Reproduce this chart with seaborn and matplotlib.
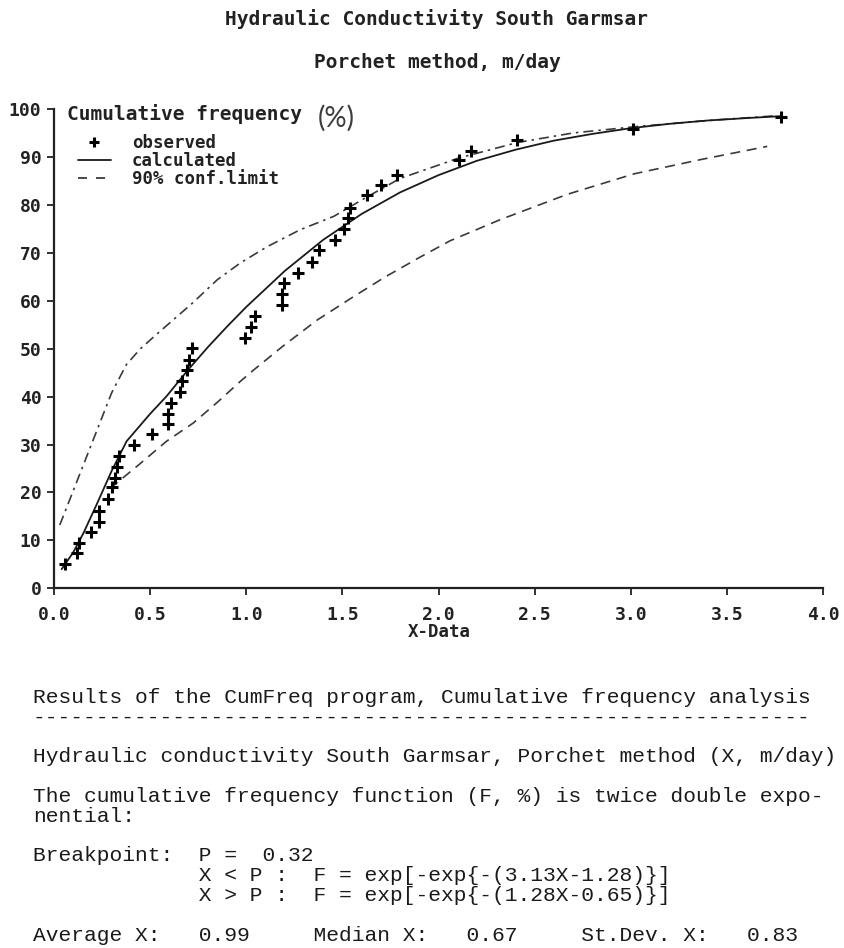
import matplotlib
matplotlib.use("Agg")
import matplotlib.pyplot as plt
import seaborn as sns
from matplotlib.lines import Line2D

# ---------------- data ----------------
obs_x = [0.057, 0.118, 0.13, 0.19, 0.234, 0.234, 0.28, 0.30, 0.318, 0.33, 0.34,
         0.418, 0.509, 0.592, 0.592, 0.609, 0.656, 0.665, 0.69, 0.70, 0.72,
         0.995, 1.024, 1.047, 1.186, 1.186, 1.198, 1.27, 1.342, 1.377, 1.464,
         1.51, 1.53, 1.54, 1.63, 1.70, 1.785, 2.106, 2.17, 2.41, 3.01, 3.78]
obs_y = [5.0, 7.4, 9.5, 11.7, 13.8, 16.1, 18.7, 21.1, 23.0, 25.4, 27.7,
         29.8, 32.1, 34.3, 36.4, 38.6, 40.9, 43.2, 45.6, 47.7, 50.1,
         52.2, 54.5, 56.9, 59.2, 61.5, 63.7, 65.8, 68.1, 70.6, 72.6,
         74.9, 77.2, 79.3, 82.1, 84.2, 86.3, 89.4, 91.3, 93.5, 95.8, 98.3]

calc_x = [0.04, 0.10, 0.153, 0.222, 0.30, 0.378, 0.50, 0.586, 0.70, 0.80, 0.90,
          1.0, 1.2, 1.4, 1.6, 1.8, 2.0, 2.2, 2.4, 2.6, 2.8, 3.0, 3.2, 3.4, 3.6, 3.78]
calc_y = [4.0, 7.5, 11.5, 17.5, 24.5, 30.7, 36.4, 40.1, 45.7, 50.3, 54.6,
          58.7, 66.2, 72.7, 78.1, 82.6, 86.2, 89.2, 91.5, 93.4, 94.8, 96.0, 96.9, 97.6, 98.1, 98.5]

upper_x = [0.03, 0.17, 0.30, 0.377, 0.45, 0.534, 0.64, 0.72, 0.85, 0.97, 1.11,
           1.28, 1.455, 1.63, 1.80, 2.10, 2.41, 2.70, 3.02, 3.40, 3.76]
upper_y = [13.2, 27.5, 40.8, 46.7, 50.0, 53.0, 56.7, 59.5, 64.4, 67.9, 71.3,
           74.8, 77.6, 81.7, 85.5, 89.7, 93.0, 95.0, 96.3, 97.6, 98.6]

lower_x = [0.29, 0.43, 0.586, 0.725, 0.855, 0.97, 1.04, 1.19, 1.37, 1.56, 1.72,
           1.90, 2.06, 2.32, 2.67, 3.02, 3.37, 3.71]
lower_y = [20.8, 25.4, 30.7, 34.5, 39.0, 43.2, 45.6, 50.5, 56.0, 60.9, 64.9,
           69.0, 72.5, 76.9, 82.2, 86.5, 89.5, 92.2]

xticks = [0.0, 0.5, 1.0, 1.5, 2.0, 2.5, 3.0, 3.5, 4.0]
xtick_labels = ["0.0", "0.5", "1.0", "1.5", "2.0", "2.5", "3.0", "3.5", "4.0"]
yticks = [0, 10, 20, 30, 40, 50, 60, 70, 80, 90, 100]
ytick_labels = ["0", "10", "20", "30", "40", "50", "60", "70", "80", "90", "100"]

legend_labels = ["observed", "calculated", "90% conf.limit"]

title1 = "Hydraulic Conductivity South Garmsar"
title2 = "Porchet method, m/day"
ylabel = "Cumulative frequency"
xlabel = "X-Data"

report_lines = [
    "Results of the CumFreq program, Cumulative frequency analysis",
    "-------------------------------------------------------------",
    "",
    "Hydraulic conductivity South Garmsar, Porchet method (X, m/day)",
    "",
    "The cumulative frequency function (F, %) is twice double expo-",
    "nential:",
    "",
    "Breakpoint:  P =  0.32",
    "             X < P :  F = exp[-exp{-(3.13X-1.28)}]",
    "             X > P :  F = exp[-exp{-(1.28X-0.65)}]",
    "",
    "Average X:   0.99     Median X:   0.67     St.Dev. X:   0.83",
]

# ---------------- figure ----------------
sns.set_theme(style="ticks")
plt.rcParams["font.family"] = ["DejaVu Sans Mono", "DejaVu Sans"]

W, H = 845, 948
fig = plt.figure(figsize=(W / 100, H / 100), dpi=100)
fig.patch.set_facecolor("white")


def fx(px):
    return px / W


def fy(py):
    return 1 - py / H


ax = fig.add_axes([fx(54), fy(588.3), (823 - 54) / W, (588.3 - 109) / H])
ax.set_facecolor("white")

sns.lineplot(x=upper_x, y=upper_y, ax=ax, color="#3a3a3a", linewidth=1.2,
             linestyle=(0, (6, 3, 1.5, 3)), sort=False, estimator=None)
sns.lineplot(x=lower_x, y=lower_y, ax=ax, color="#3a3a3a", linewidth=1.2,
             linestyle=(0, (6, 4)), sort=False, estimator=None)
sns.lineplot(x=calc_x, y=calc_y, ax=ax, color="#1a1a1a", linewidth=1.3,
             sort=False, estimator=None)
sns.scatterplot(x=obs_x, y=obs_y, ax=ax, marker="+", s=70, color="black",
                linewidth=2.2, zorder=5)

ax.set_xlim(0, 4)
ax.set_ylim(0, 100)
ax.set_xticks(xticks)
ax.set_xticklabels(xtick_labels)
ax.set_yticks(yticks)
ax.set_yticklabels(ytick_labels)
ax.set_xlabel("")
ax.set_ylabel("")
for s in ["top", "right"]:
    ax.spines[s].set_visible(False)
for s in ["left", "bottom"]:
    ax.spines[s].set_color("#222222")
    ax.spines[s].set_linewidth(1.6)
ax.tick_params(axis="both", direction="out", length=5, width=1.3,
               color="#222222", labelsize=13, labelcolor="#222222")
ax.tick_params(axis="x", pad=8)
ax.tick_params(axis="y", pad=4)
for lab in ax.get_xticklabels() + ax.get_yticklabels():
    lab.set_fontweight("bold")

# legend
handles = [
    Line2D([], [], marker="+", linestyle="none", color="black", markersize=7,
           markeredgewidth=2.2),
    Line2D([], [], color="#1a1a1a", linewidth=1.3),
    Line2D([], [], color="#3a3a3a", linewidth=1.3, linestyle=(0, (5, 5))),
]
leg = ax.legend(handles, legend_labels, loc="upper left",
                bbox_to_anchor=(fx(78), fy(134)), bbox_transform=fig.transFigure,
                frameon=False, handlelength=1.9, handletextpad=1.2,
                labelspacing=0.0, borderpad=0, borderaxespad=0,
                prop={"family": "DejaVu Sans Mono", "weight": "bold", "size": 12.5})
for t in leg.get_texts():
    t.set_color("#222222")

# titles and labels
fig.text(fx(437), fy(19), title1, ha="center", va="center",
         fontsize=14, fontweight="bold", color="#222222")
fig.text(fx(437), fy(63), title2, ha="center", va="center",
         fontsize=14, fontweight="bold", color="#222222")
fig.text(fx(67), fy(114), ylabel, ha="left", va="center",
         fontsize=14, fontweight="bold", color="#222222")
fig.text(fx(318), fy(118), "(%)", ha="left", va="center",
         fontsize=20, fontweight="normal", family=["Lato", "DejaVu Sans"],
         color="#3c3c3c")
fig.text(fx(439), fy(632), xlabel, ha="center", va="center",
         fontsize=12.5, fontweight="bold", color="#222222")

# report text block (one multi-line text, blank lines keep the spacing)
fig.text(fx(33), fy(688), "\n".join(report_lines), ha="left", va="top",
         fontsize=15.3, family=["Liberation Mono", "DejaVu Sans Mono"],
         color="#1a1a1a", linespacing=1.053)

fig.savefig("out.png", dpi=100, facecolor="white")
